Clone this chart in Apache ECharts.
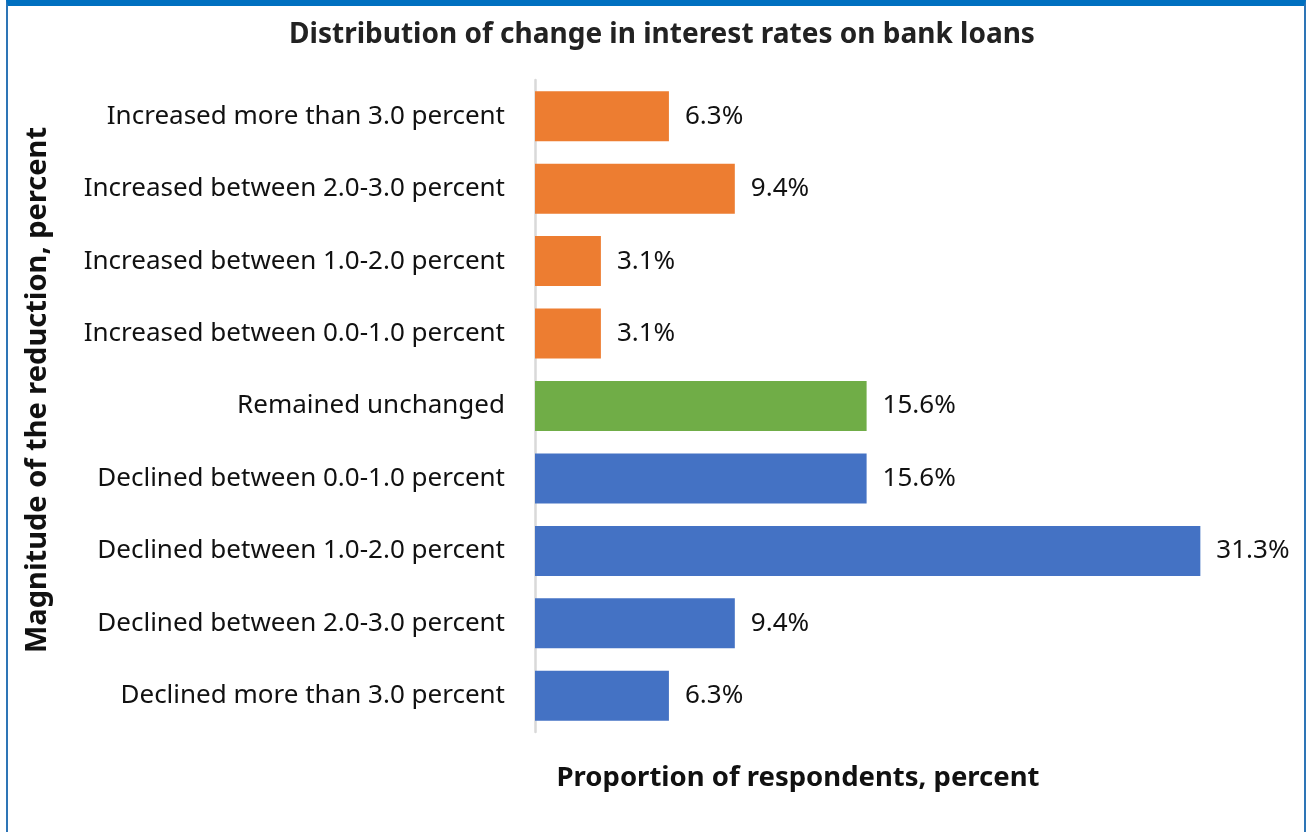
<!DOCTYPE html>
<html>
<head>
<meta charset="utf-8">
<script src="https://cdn.jsdelivr.net/npm/echarts@6/dist/echarts.min.js"></script>
<style>
  html, body { margin: 0; padding: 0; background: #fff; }
  #frame {
    position: absolute; left: 6px; top: 0; width: 1300px; height: 832px;
    border-top: 6px solid #0070C0; border-left: 2px solid #2E75B6; border-right: 2px solid #2E75B6;
    box-sizing: border-box;
  }
  #chart { position: absolute; left: 0; top: 0; width: 1311px; height: 832px; }
</style>
</head>
<body>
<div id="frame"></div>
<div id="chart"></div>
<script>
// Survey categories, top to bottom as drawn
const categories = [
  'Increased more than 3.0 percent',
  'Increased between 2.0-3.0 percent',
  'Increased between 1.0-2.0 percent',
  'Increased between 0.0-1.0 percent',
  'Remained unchanged',
  'Declined between 0.0-1.0 percent',
  'Declined between 1.0-2.0 percent',
  'Declined between 2.0-3.0 percent',
  'Declined more than 3.0 percent'
];
// Share of respondents, percent
const shares = [6.3, 9.4, 3.1, 3.1, 15.6, 15.6, 31.3, 9.4, 6.3];
// Direction group for each category: up, same, down
const groups = ['up', 'up', 'up', 'up', 'same', 'down', 'down', 'down', 'down'];
const groupColors = { up: '#ED7D31', same: '#70AD47', down: '#4472C4' };

const FONT = '"Noto Sans", sans-serif';

const chart = echarts.init(document.getElementById('chart'), null, { renderer: 'canvas' });
chart.setOption({
  animation: false,
  backgroundColor: 'transparent',
  title: {
    text: 'Distribution of change in interest rates on bank loans',
    left: 657, top: 16, textAlign: 'center',
    textStyle: { fontFamily: FONT, fontWeight: 'bold', fontSize: 28, color: '#222' }
  },
  grid: { left: 535, right: 32, top: 80, bottom: 100, containLabel: false },
  xAxis: {
    type: 'value', min: 0, max: 35,
    axisLine: { show: false }, axisTick: { show: false },
    axisLabel: { show: false }, splitLine: { show: false }
  },
  yAxis: {
    type: 'category', inverse: true, data: categories,
    axisLine: { show: true, lineStyle: { color: '#D9D9D9', width: 2.5 } },
    axisTick: { show: false },
    axisLabel: { margin: 30, fontFamily: FONT, fontSize: 26, color: '#111' }
  },
  series: [{
    type: 'bar',
    barCategoryGap: '31%',
    data: shares.map((v, i) => ({ value: v, itemStyle: { color: groupColors[groups[i]] } })),
    label: {
      show: true, position: 'right', distance: 16,
      formatter: p => p.value.toFixed(1) + '%',
      fontFamily: FONT, fontSize: 26, color: '#111'
    }
  }],
  graphic: [{
    // vertical axis title
    type: 'text', x: 38, y: 390, rotation: Math.PI / 2,
    style: {
      text: 'Magnitude of the reduction, percent',
      fontFamily: FONT, fontWeight: 'bold', fontSize: 29, fill: '#111',
      align: 'center', verticalAlign: 'middle'
    }
  }, {
    // horizontal axis title
    type: 'text', x: 798, y: 778,
    style: {
      text: 'Proportion of respondents, percent',
      fontFamily: FONT, fontWeight: 'bold', fontSize: 27.5, fill: '#111',
      align: 'center', verticalAlign: 'middle'
    }
  }]
});
</script>
</body>
</html>
